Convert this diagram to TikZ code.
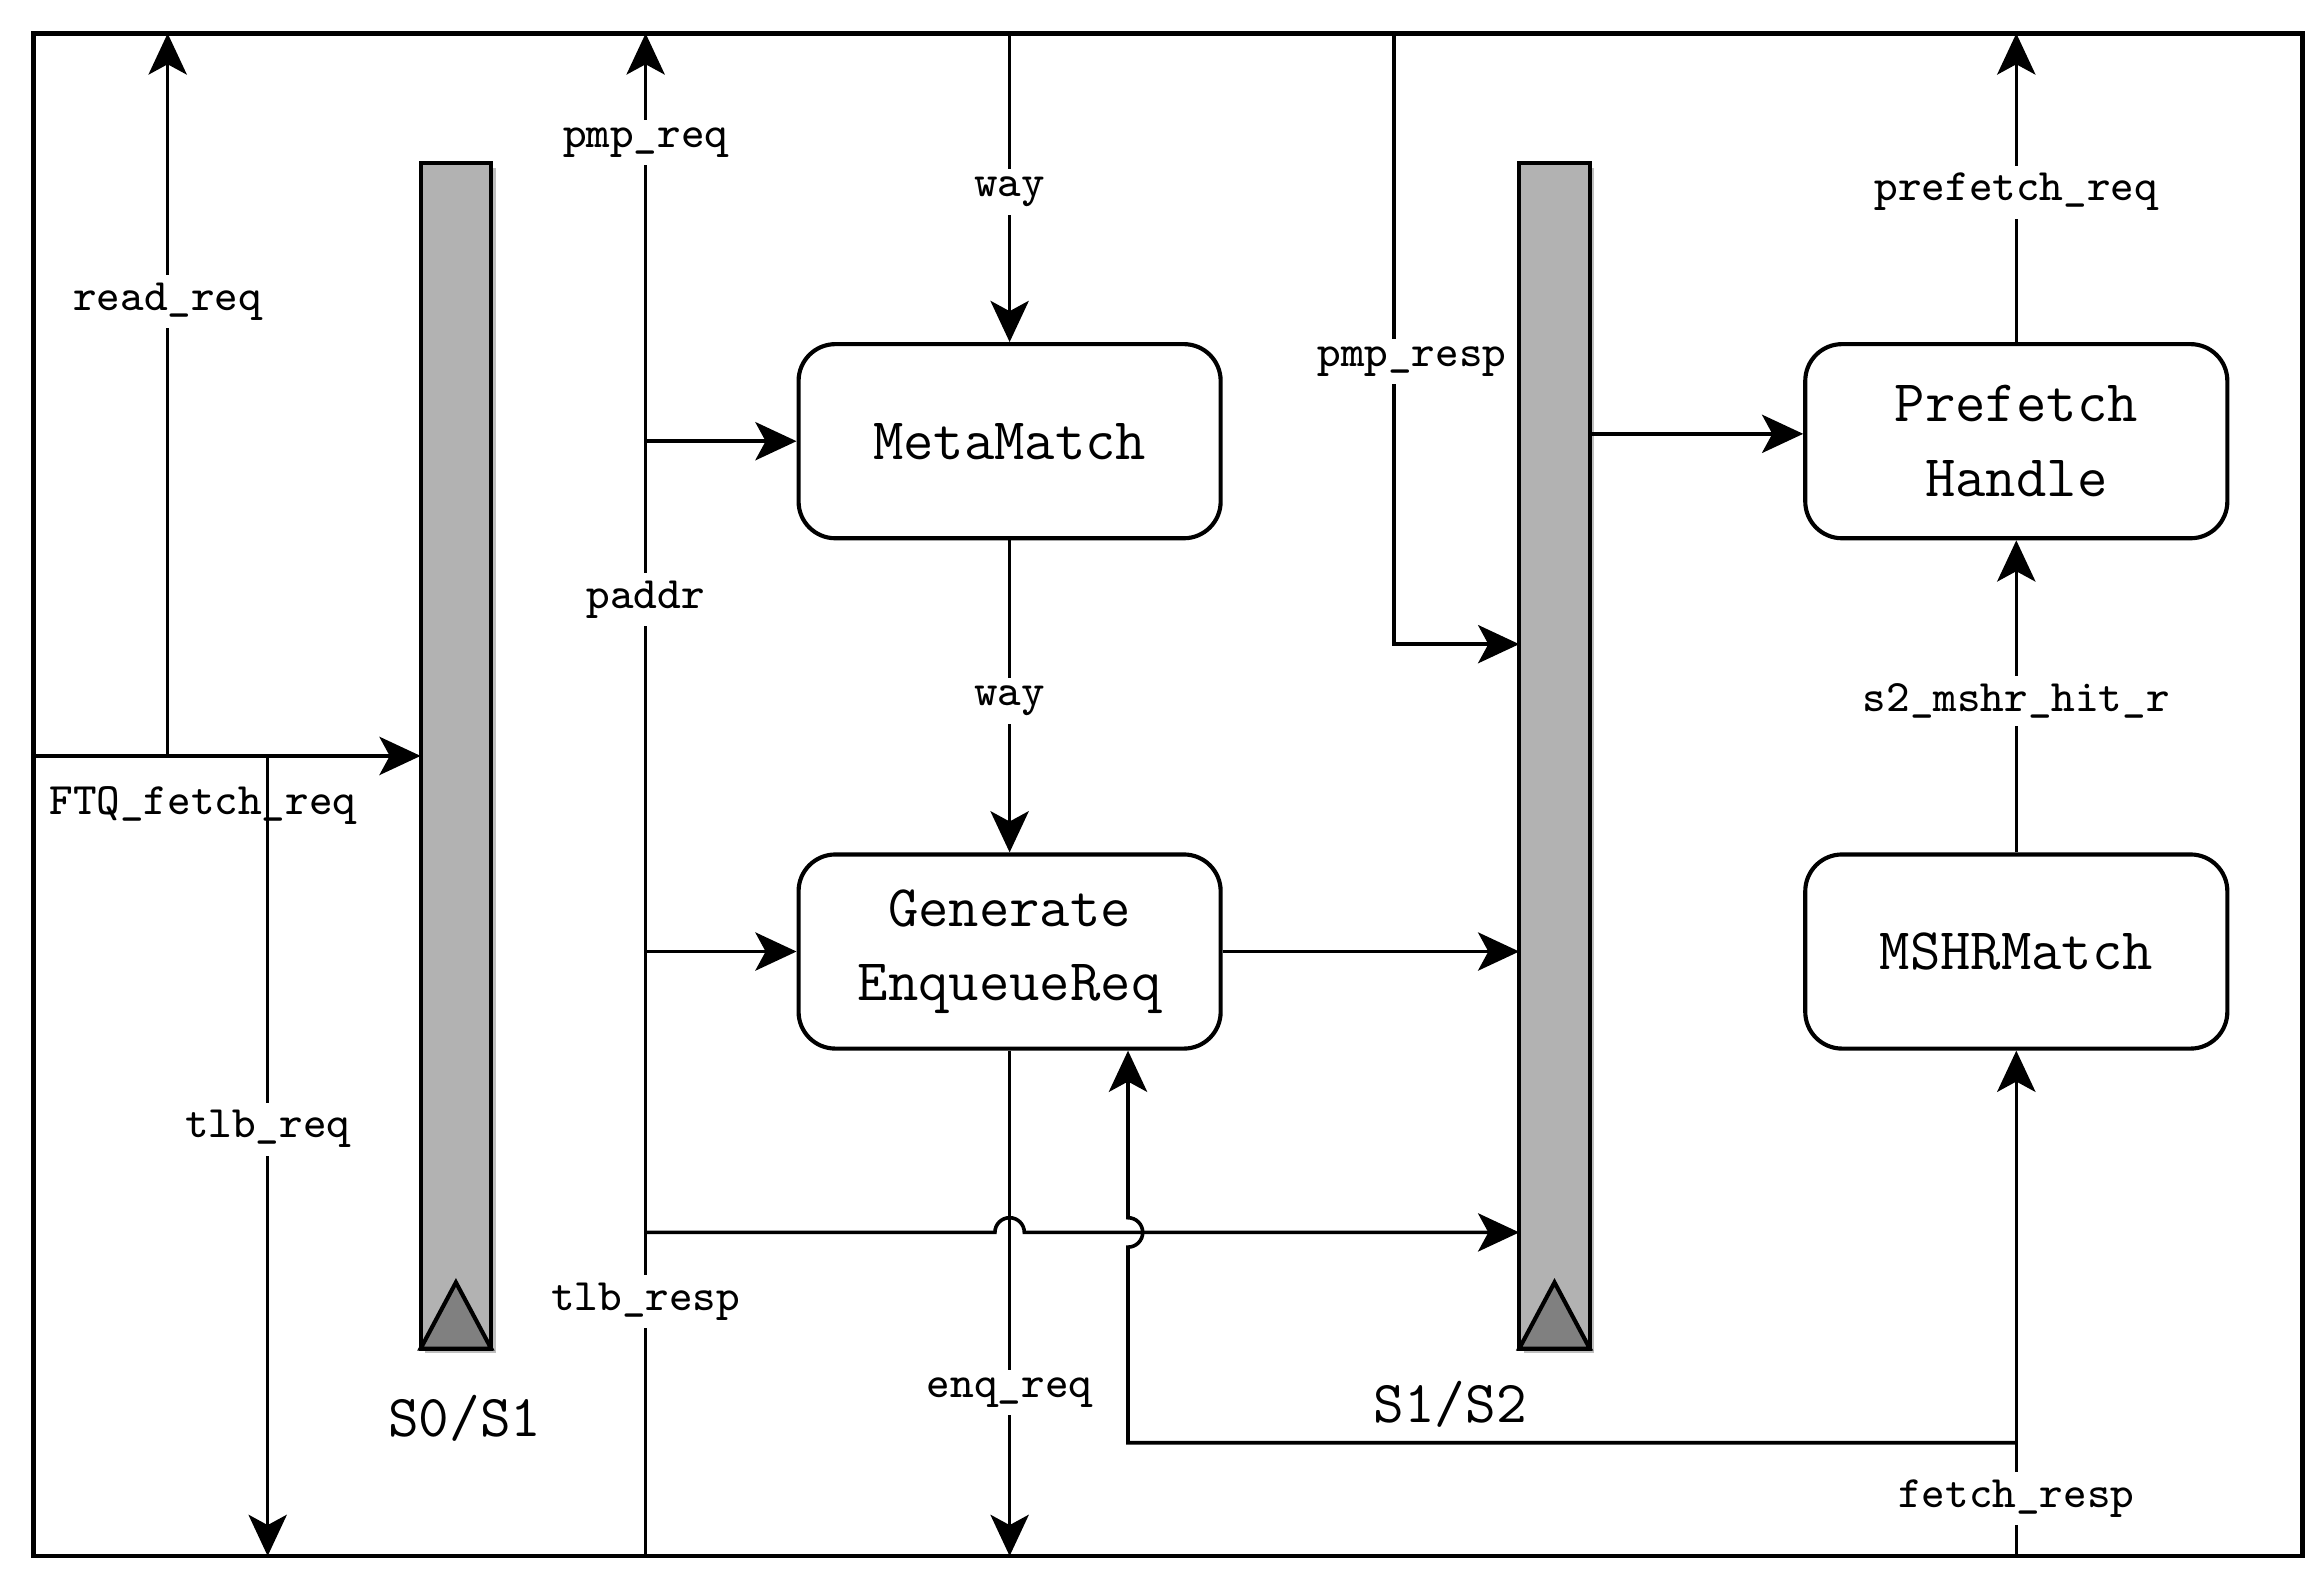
\documentclass[tikz,border=0pt]{standalone}
\usetikzlibrary{arrows.meta,shadows}

\begin{document}
\begin{tikzpicture}[
        sig/.style={-{Stealth[length=2.8mm,width=2.6mm,inset=0.7mm]}, line width=0.7pt},
        lbl/.style={fill=white, inner sep=1.5pt, yshift=-0.3mm, font=\fontsize{8.7}{10}\selectfont\ttfamily},
        frame/.style={draw, line width=0.9pt, minimum width=15.425cm, minimum height=10.353cm, inner sep=0pt, outer sep=0pt},
        block/.style={draw, line width=0.8pt, rounded corners=2.5mm, minimum width=2.87cm, minimum height=1.32cm,
            align=center, font=\fontsize{11.4}{14.4}\selectfont\ttfamily},
        bar/.style={draw, line width=0.8pt, fill=gray!60, minimum width=0.48cm, minimum height=8.06cm,
            inner sep=0pt, outer sep=0pt, drop shadow={shadow xshift=0.3mm, shadow yshift=-0.3mm, fill=black, opacity=0.25}},
        stage/.style={font=\fontsize{11.5}{14}\selectfont\ttfamily}
    ]
    \useasboundingbox (0,0) rectangle (15.68,10.845);

    % Rahmen
    \node[frame] (frame) at (7.9425,5.4415) {};

    % Pipeline-Register
    \node[bar] (s01) at (3.10,5.705) {};
    \node[bar] (s12) at (10.57,5.705) {};
    \foreach \b in {s01,s12}
        \draw[line width=0.8pt, fill=gray] (\b.south west) -- ([yshift=4.5mm]\b.south) -- (\b.south east) -- cycle;
    \node[stage] (l01) at (3.16,1.20) {S0/S1};
    \node[stage] (l12) at (9.86,1.295) {S1/S2};

    % Bloecke
    \node[block] (meta) at (6.865,7.845) {MetaMatch};
    \node[block] (gen) at (6.865,4.375) {Generate\\EnqueueReq};
    \node[block] (pref) at (13.71,7.845) {Prefetch\\Handle};
    \node[block] (mshr) at (13.71,4.375) {MSHRMatch};

    % Hilfspunkte
    \coordinate (ftq) at (0.23,5.705);
    \coordinate (rd) at (1.14,5.705);
    \coordinate (tlbq) at (1.82,5.705);
    \coordinate (pmp) at (4.39,5.705);
    \coordinate (tlbr) at (4.39,2.465);
    \coordinate (enqx) at (6.865,2.465);
    \coordinate (jmp) at (7.67,2.465);
    \coordinate (presp) at (9.48,6.465);
    \coordinate (fbr) at (13.71,1.035);
    \coordinate (fbl) at (7.67,1.035);

    % Stufe 0
    \draw[sig] (ftq) -- (ftq -| s01.west);
    \node[lbl, fill=none] (ftqlbl) at (1.38,5.395) {FTQ\_fetch\_req};
    \draw[sig] (rd) -- (rd |- frame.north) node[lbl, pos=0.635] {read\_req};
    \draw[sig] (tlbq) -- (tlbq |- frame.south) node[lbl, pos=0.461] {tlb\_req};

    % Stufe 1
    \draw[sig] (pmp |- frame.south) -- (pmp |- frame.north)
        node[lbl, pos=0.170] {tlb\_resp}
        node[lbl, pos=0.631] {paddr}
        node[lbl, pos=0.931] {pmp\_req};
    \draw[sig] (pmp |- meta) -- (meta.west);
    \draw[sig] (pmp |- gen) -- (gen.west);
    \draw[sig] (tlbr) -- ([xshift=-1mm]enqx) arc[start angle=180, end angle=0, radius=1mm] -- (tlbr -| s12.west);

    \draw[sig] (meta.north |- frame.north) -- (meta.north) node[lbl, midway] {way};
    \draw[sig] (meta) -- (gen) node[lbl, midway] {way};
    \draw[sig] (gen.south) -- (gen.south |- frame.south) node[lbl, pos=0.667] {enq\_req};
    \draw[sig] (gen) -- (gen -| s12.west);

    \draw[sig] (presp |- frame.north) -- node[lbl, pos=0.53, xshift=1.2mm] {pmp\_resp} (presp) -- (presp -| s12.west);

    % Stufe 2
    \draw[sig] ([yshift=0.5mm]pref.west -| s12.east) -- ([yshift=0.5mm]pref.west);
    \draw[sig] (pref) -- (pref |- frame.north) node[lbl, midway] {prefetch\_req};
    \draw[sig] (mshr) -- (pref) node[lbl, midway] {s2\_mshr\_hit\_r};
    \draw[sig] (mshr |- frame.south) -- (mshr) node[lbl, pos=0.122] {fetch\_resp};
    \draw[sig] (fbr) -- (fbl) -- ([yshift=-1mm]jmp) arc[start angle=-90, end angle=90, radius=1mm] -- (fbl |- gen.south);

\end{tikzpicture}
\end{document}
